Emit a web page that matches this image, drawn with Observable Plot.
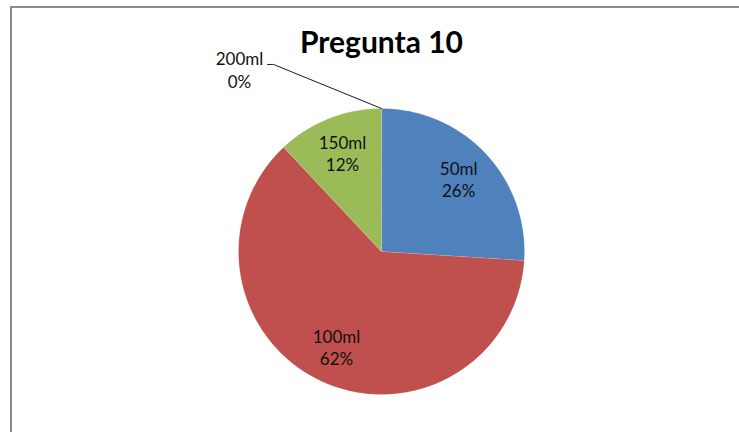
<!DOCTYPE html>
<html>
<head>
<meta charset="utf-8">
<script src="https://cdn.jsdelivr.net/npm/d3@7"></script>
<script src="https://cdn.jsdelivr.net/npm/@observablehq/plot@0.6"></script>
<style>
  html, body { margin: 0; padding: 0; background: #fff; overflow: hidden; }
  #wrap { position: relative; width: 739px; height: 432px; }
  #frame { position: absolute; left: 10px; top: 6px; width: 760px; height: 460px;
           border: 2px solid #8a8a8a; box-sizing: border-box; }
  #chart { position: absolute; left: 0; top: 0; }
</style>
</head>
<body>
<div id="wrap"><div id="frame"></div><div id="chart"></div></div>
<script>
// Pregunta 10 — responses per option
const title = "Pregunta 10";
const categories = ["50ml", "100ml", "150ml", "200ml"];
const counts = [13, 31, 6, 0];
const colors = ["#4F81BD", "#C0504D", "#9BBB59", "#8064A2"];

// layout (pixels)
const W = 739, H = 432;
const cx = 381, cy = 251, R = 143;
const labelRadius = 0.74;

const total = d3.sum(counts);
const rows = categories.map((c, i) => ({key: c, value: counts[i], pct: Math.round(counts[i] / total * 100)}));

// angles measured clockwise from 12 o'clock
const arcs = d3.pie().sort(null).value(d => d.value)(rows);

// unit-circle point for an angle (clockwise from top)
const pt = (a, r = 1) => [r * Math.sin(a), r * Math.cos(a)];

// slice outlines: center, then the arc edge
const slicePts = [];
for (const a of arcs) {
  if (a.endAngle - a.startAngle <= 0) continue;
  const n = Math.max(2, Math.ceil((a.endAngle - a.startAngle) / (Math.PI / 180)));
  slicePts.push({key: a.data.key, p: [0, 0]});
  for (let k = 0; k <= n; k++) {
    const t = a.startAngle + (a.endAngle - a.startAngle) * k / n;
    slicePts.push({key: a.data.key, p: pt(t)});
  }
}

const inside = arcs.filter(a => a.value > 0).map(a => {
  const m = (a.startAngle + a.endAngle) / 2;
  const [x, y] = pt(m, labelRadius);
  return {x, y, text: `${a.data.key}\n${a.data.pct}%`};
});

// zero-value slices get an outside label joined by a leader line
const zero = arcs.filter(a => a.value === 0);
const leaderPts = [];
const outside = [];
for (const a of zero) {
  const [ex, ey] = pt(a.startAngle);
  const elbow = [-0.755, 1.308], tail = [-0.797, 1.308];
  leaderPts.push({key: a.data.key, p: [ex, ey]}, {key: a.data.key, p: elbow}, {key: a.data.key, p: tail});
  outside.push({x: -0.993, y: 1.273, text: `${a.data.key}\n${a.data.pct}%`});
}

const chart = Plot.plot({
  width: W, height: H,
  margin: 0,
  x: {domain: [-cx / R, (W - cx) / R], range: [0, W], axis: null},
  y: {domain: [-(H - cy) / R, cy / R], range: [H, 0], axis: null},
  color: {domain: categories, range: colors},
  style: {background: "transparent", fontFamily: "Lato, 'Open Sans', sans-serif"},
  marks: [
    Plot.line(slicePts, {
      x: d => d.p[0], y: d => d.p[1], z: "key",
      fill: "key", stroke: "#ffffff", strokeWidth: 0.5, strokeOpacity: 0.3,
      curve: "linear-closed"
    }),
    Plot.line(leaderPts, {
      x: d => d.p[0], y: d => d.p[1], z: "key",
      stroke: "#1a1a1a", strokeWidth: 1
    }),
    Plot.text(inside, {
      x: "x", y: "y", text: "text",
      fontSize: 17, lineHeight: 1.3, lineAnchor: "middle",
      fill: "#111"
    }),
    Plot.text(outside, {
      x: "x", y: "y", text: "text",
      fontSize: 17, lineHeight: 1.3, lineAnchor: "middle",
      fill: "#111"
    }),
    Plot.text([title], {
      frameAnchor: "top", dx: cx - W / 2, dy: 52,
      lineAnchor: "bottom",
      text: d => d, fontSize: 30, fontWeight: "bold", fill: "#000"
    })
  ]
});
document.getElementById("chart").appendChild(chart);
</script>
</body>
</html>
